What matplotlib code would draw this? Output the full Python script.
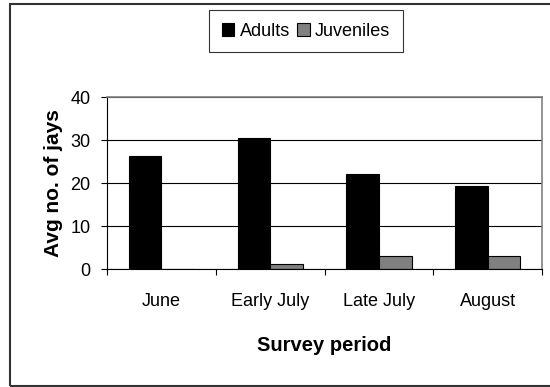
import matplotlib.pyplot as plt
import numpy as np
from matplotlib.patches import Rectangle

plt.rcParams['font.family'] = ['Liberation Sans', 'DejaVu Sans']

periods = ['June', 'Early July', 'Late July', 'August']
adults = [26.3, 30.5, 22.2, 19.4]
juveniles = [0, 1.1, 3.1, 3.0]

fig = plt.figure(figsize=(5.5, 3.87), dpi=100)
# outer chart border
fig.patches.append(Rectangle((10 / 550, 1 / 387), 1.0, 382 / 387,
                             transform=fig.transFigure, fill=False,
                             edgecolor='#333333', lw=1.5))

ax = fig.add_axes([107 / 550, 1 - 269 / 387, 435 / 550, 172 / 387])
x = np.arange(len(periods))
w = 0.3
b1 = ax.bar(x - w / 2, adults, w, color='black', edgecolor='black', lw=0.8, label='Adults')
b2 = ax.bar(x + w / 2, juveniles, w, color='#808080', edgecolor='black', lw=0.8, label='Juveniles')

ax.set_xlim(-0.5, len(periods) - 0.5)
ax.set_ylim(0, 40)
ax.set_yticks([0, 10, 20, 30, 40])
ax.yaxis.grid(True, color='black', lw=0.8)
ax.set_axisbelow(True)

ax.set_xticks(x)
ax.set_xticklabels(periods, fontsize=13)
ax.set_xticks(np.arange(-0.5, len(periods)), minor=True)
ax.tick_params(axis='x', which='major', length=0, pad=17)
ax.tick_params(axis='x', which='minor', length=4, width=0.8, direction='out')
ax.tick_params(axis='y', labelsize=13, length=4, width=0.8, direction='out', pad=8)

for s in ['top', 'right']:
    ax.spines[s].set_color('#808080')
    ax.spines[s].set_linewidth(1.2)
ax.spines['left'].set_linewidth(0.8)
ax.spines['bottom'].set_linewidth(0.8)

ax.set_xlabel('Survey period', fontsize=14.5, fontweight='bold', labelpad=19)
ax.set_ylabel('Avg no. of jays', fontsize=15, fontweight='bold', labelpad=5)

leg = fig.legend(handles=[b1, b2], loc='center', bbox_to_anchor=(306 / 550, 1 - 31 / 387),
                 ncol=2, fontsize=13, frameon=True, fancybox=False, edgecolor='black',
                 handlelength=0.7, handleheight=0.7, handletextpad=0.3, columnspacing=0.4,
                 borderpad=0.7)
leg.get_frame().set_linewidth(0.8)

fig.savefig('out.png', dpi=100)
